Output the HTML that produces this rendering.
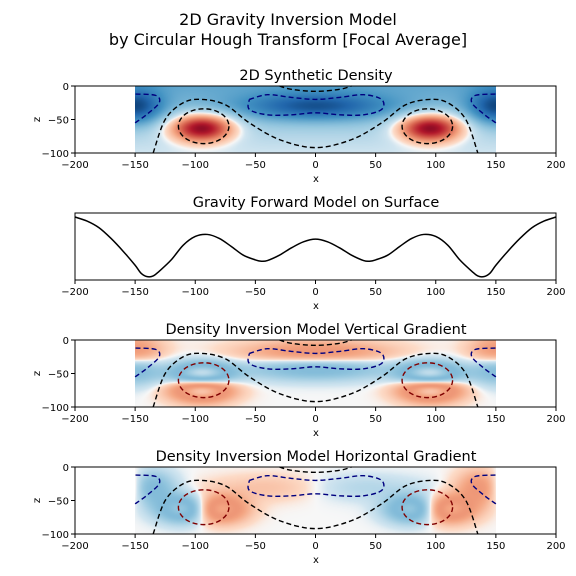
<!DOCTYPE html>
<html><head><meta charset="utf-8"><style>
body{margin:0;background:#fff;font-family:"DejaVu Sans","Liberation Sans",sans-serif}
#wrap{position:relative;width:576px;height:576px}
svg{position:absolute;left:0;top:0}
canvas{position:absolute}
</style></head><body>
<div id="wrap">
<canvas id="c1"></canvas>
<canvas id="c3"></canvas>
<canvas id="c4"></canvas>
<svg id="s" width="576" height="576" font-family="DejaVu Sans, Liberation Sans, sans-serif"></svg>
</div>
<script>
// ---- data ----
const bodyX=[-95,95,-150,150,0];
const bodyZ=[-62,-62,-30,-30,-30];
const bodySX=[25,25,22,22,60];
const bodySZ=[20,20,25,25,20];
const bodyAmp=[1.05,1.05,-0.6,-0.6,-0.55];
const gravX=[-200,-190,-180,-170,-160,-150,-145,-140,-135,-130,-120,-110,-100,-90,-80,-70,-60,-50,-45,-40,-30,-20,-10,0,10,20,30,40,45,50,60,70,80,90,100,110,120,130,135,140,145,150,160,170,180,190,200];
const gravV=[0.94,0.88,0.78,0.62,0.43,0.22,0.1,0.05,0.06,0.13,0.3,0.52,0.65,0.68,0.62,0.5,0.37,0.3,0.28,0.29,0.37,0.48,0.57,0.61,0.57,0.48,0.37,0.29,0.28,0.3,0.37,0.5,0.62,0.68,0.65,0.52,0.3,0.13,0.06,0.05,0.1,0.22,0.43,0.62,0.78,0.88,0.94];
const xTicks=[-200,-150,-100,-50,0,50,100,150,200];
const zTicks=[0,-50,-100];
const blackOuter=[[-135,-100],[-125,-50],[-110,-25],[-95,-20],[-75,-28],[-55,-55],[-30,-80],[0,-92],[30,-80],[55,-55],[75,-28],[95,-20],[110,-25],[125,-50],[135,-100]];
const blackTop=[[-30,0],[-20,-5],[0,-8],[20,-5],[30,0]];
const blueLeft=[[-150,-55],[-140,-42],[-130,-25],[-133,-14],[-150,-12]];
const blueRight=[[150,-55],[140,-42],[130,-25],[133,-14],[150,-12]];
const blueCenter=[[-55,-20],[-40,-13],[-20,-17],[0,-20],[20,-17],[40,-13],[55,-20],[55,-35],[40,-43],[20,-43],[0,-40],[-20,-43],[-40,-43],[-55,-35],[-55,-20]];
const redEll=[[-93,-60,21,26],[93,-60,21,26]];
// ---- layout ----
const L=75,R=556;
const panels=[{t:86,b:153,title:"2D Synthetic Density",ty:80},{t:213,b:280,title:"Gravity Forward Model on Surface",ty:207},{t:340,b:407,title:"Density Inversion Model Vertical Gradient",ty:334},{t:467,b:534,title:"Density Inversion Model Horizontal Gradient",ty:461}];
const sx=x=>L+(x+200)/400*(R-L);
const s=document.getElementById('s');
const NS='http://www.w3.org/2000/svg';
const fmt=v=>v<0?'\u2212'+(-v):String(v);
function el(tag,attrs,name,parent){const e=document.createElementNS(NS,tag);for(const k in attrs)e.setAttribute(k,attrs[k]);


(parent||s).appendChild(e);return e;}
function field(x,z){let f=0;for(let i=0;i<bodyX.length;i++){const dx=(x-bodyX[i])/bodySX[i],dz=(z-bodyZ[i])/bodySZ[i];f+=bodyAmp[i]*Math.exp(-dx*dx-dz*dz);}return f;}
function rdbu(v){v=Math.max(-1,Math.min(1,v));
const st=[[-1,[5,48,97]],[-0.75,[33,102,172]],[-0.5,[67,147,195]],[-0.25,[146,197,222]],[-0.05,[209,229,240]],[0,[247,247,247]],[0.05,[253,219,199]],[0.25,[244,165,130]],[0.5,[214,96,77]],[0.75,[178,24,43]],[1,[103,0,31]]];
for(let i=0;i<st.length-1;i++){if(v<=st[i+1][0]){const t=(v-st[i][0])/(st[i+1][0]-st[i][0]);return st[i][1].map((c,j)=>Math.round(c+t*(st[i+1][1][j]-c)));}}return st[st.length-1][1];}
function heat(id,p,fn){const c=document.getElementById(id);const x0=sx(-150),x1=sx(150);const w=Math.round(x1-x0),h=p.b-p.t;
c.width=w;c.height=h;c.style.left=x0+'px';c.style.top=p.t+'px';const ctx=c.getContext('2d');const img=ctx.createImageData(w,h);
for(let j=0;j<h;j++)for(let i=0;i<w;i++){const x=-150+i/w*300,z=-j/h*100;const col=rdbu(fn(x,z));const k=(j*w+i)*4;img.data[k]=col[0];img.data[k+1]=col[1];img.data[k+2]=col[2];img.data[k+3]=255;}
ctx.putImageData(img,0,0);}
heat('c1',panels[0],(x,z)=>field(x,z)-0.35*(1+z/100)-0.05);
heat('c3',panels[2],(x,z)=>{const d=(field(x,z+2)-field(x,z-2))/4;return 0.3*Math.sin(d*60);});
heat('c4',panels[3],(x,z)=>{const d=(field(x+2,z)-field(x-2,z))/4;return -0.3*Math.sin(d*60);});
// title
el('text',{x:288,y:25,'text-anchor':'middle','font-size':16},'figure-title-line1').textContent='2D Gravity Inversion Model';
el('text',{x:288,y:45,'text-anchor':'middle','font-size':16},'figure-title-line2').textContent='by Circular Hough Transform [Focal Average]';
panels.forEach((p,pi)=>{
 const g=el('g',{},'panel-'+(pi+1));
 const sz=z=>p.t+(-z)/100*(p.b-p.t);
 function curve(a,X,Y){let d='M'+X(a[0])+','+Y(a[0]);for(let i=0;i<a.length-1;i++){const p0=a[Math.max(0,i-1)],p1=a[i],p2=a[i+1],p3=a[Math.min(a.length-1,i+2)];
  d+=' C'+(X(p1)+(X(p2)-X(p0))/6)+','+(Y(p1)+(Y(p2)-Y(p0))/6)+' '+(X(p2)-(X(p3)-X(p1))/6)+','+(Y(p2)-(Y(p3)-Y(p1))/6)+' '+X(p2)+','+Y(p2);}return d;}
 const CX=q=>sx(q[0]),CZ=q=>sz(q[1]);
 el('text',{x:316,y:p.ty,'text-anchor':'middle','font-size':14.5},'panel-title').textContent=p.title;
 if(pi!==1){
  const dash={fill:'none','stroke-width':1.4,'stroke-dasharray':'5,3'};
  el('path',Object.assign({d:curve(blackOuter,CX,CZ),stroke:'#000'},dash),'contour-outer',g);
  el('path',Object.assign({d:curve(blackTop,CX,CZ),stroke:'#000'},dash),'contour-top',g);
  el('path',Object.assign({d:curve(blueLeft,CX,CZ),stroke:'#00007f'},dash),'contour-blue-left',g);
  el('path',Object.assign({d:curve(blueRight,CX,CZ),stroke:'#00007f'},dash),'contour-blue-right',g);
  el('path',Object.assign({d:curve(blueCenter,CX,CZ),stroke:'#00007f'},dash),'contour-blue-center',g);
  redEll.forEach(e=>el('ellipse',Object.assign({cx:sx(e[0]),cy:sz(e[1]),rx:e[2]*(R-L)/400,ry:e[3]*(p.b-p.t)/100,stroke:pi===0?'#000':'#7f0000'},dash),'contour-red',g));
  zTicks.forEach(z=>{el('line',{x1:L-4,x2:L,y1:sz(z),y2:sz(z),stroke:'#000'},'z-tick',g);
   el('text',{x:L-6,y:sz(z)+4,'text-anchor':'end','font-size':10},'z-tick-label',g).textContent=fmt(z);});
  el('text',{x:36,y:(p.t+p.b)/2+4,'text-anchor':'middle','font-size':10,transform:'rotate(-90 36 '+((p.t+p.b)/2)+')'},'z-axis-title',g).textContent='z';
 } else {
  const pts=gravX.map((x,i)=>[x,gravV[i]]);
  const gy=q=>p.b-q[1]*(p.b-p.t);
  el('path',{d:curve(pts,CX,gy),fill:'none',stroke:'#000','stroke-width':1.5},'gravity-line',g);
 }
 el('rect',{x:L,y:p.t,width:R-L,height:p.b-p.t,fill:'none',stroke:'#000','stroke-width':1},'axes-frame',g);
 xTicks.forEach(x=>{el('line',{x1:sx(x),x2:sx(x),y1:p.b,y2:p.b+4,stroke:'#000'},'x-tick',g);
  el('text',{x:sx(x),y:p.b+15,'text-anchor':'middle','font-size':10},'x-tick-label',g).textContent=fmt(x);});
 el('text',{x:316,y:p.b+29,'text-anchor':'middle','font-size':10},'x-axis-title',g).textContent='x';
});
</script>
</body></html>
